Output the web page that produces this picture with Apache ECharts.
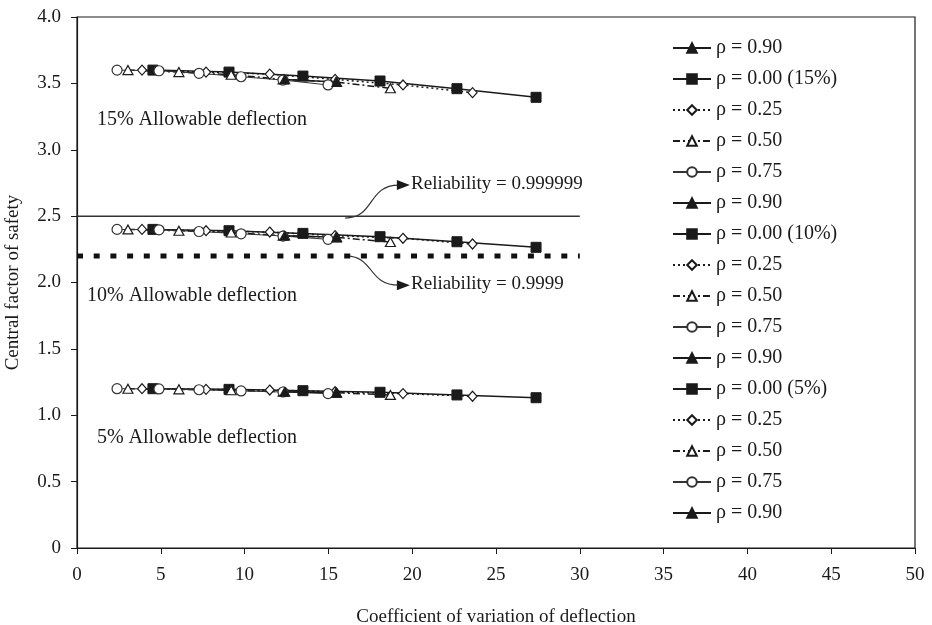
<!DOCTYPE html>
<html><head><meta charset="utf-8">
<script src="https://cdn.jsdelivr.net/npm/echarts@6/dist/echarts.min.js"></script>
<style>html,body{margin:0;padding:0;background:#fff}#c{width:932px;height:625px}</style>
</head><body><div id="c"></div>
<script>
// ---- data ----
const xTicks = [0,5,10,15,20,25,30,35,40,45,50];
const yTicks = [0,0.5,1.0,1.5,2.0,2.5,3.0,3.5,4.0];
// coefficient of variation of deflection (x) for each correlation
const cov_r00 = [4.53, 9.07, 13.48, 18.08, 22.67, 27.39];
const cov_r25 = [3.88, 7.70, 11.50, 15.40, 19.45, 23.60];
const cov_r50 = [3.04, 6.08, 9.20, 12.30, 15.45, 18.70];
const cov_r75 = [2.39, 4.89, 7.28, 9.79, 12.29, 14.98];
const cov_r90 = [12.40, 15.50];
// central factor of safety, 15% allowable deflection
const fs15_r00 = [3.60, 3.585, 3.555, 3.518, 3.46, 3.395];
const fs15_r25 = [3.60, 3.585, 3.57, 3.53, 3.488, 3.43];
const fs15_r50 = [3.60, 3.585, 3.565, 3.53, 3.51, 3.463];
const fs15_r75 = [3.60, 3.595, 3.576, 3.55, 3.525, 3.488];
const fs15_r90 = [3.53, 3.51];
// 10% allowable deflection
const fs10_r00 = [2.40, 2.39, 2.37, 2.345, 2.307, 2.265];
const fs10_r25 = [2.40, 2.39, 2.38, 2.353, 2.333, 2.29];
const fs10_r50 = [2.40, 2.39, 2.377, 2.353, 2.34, 2.305];
const fs10_r75 = [2.40, 2.397, 2.384, 2.367, 2.35, 2.325];
const fs10_r90 = [2.353, 2.34];
// 5% allowable deflection
const fs05_r00 = [1.20, 1.195, 1.185, 1.173, 1.153, 1.132];
const fs05_r25 = [1.20, 1.195, 1.19, 1.177, 1.163, 1.143];
const fs05_r50 = [1.20, 1.195, 1.188, 1.177, 1.17, 1.153];
const fs05_r75 = [1.20, 1.198, 1.192, 1.183, 1.175, 1.163];
const fs05_r90 = [1.177, 1.17];
// reliability reference lines
const relX = [0, 30];
const rel6 = 2.5;
const rel4 = 2.2;
const legendLabels = ['ρ = 0.90','ρ = 0.00 (15%)','ρ = 0.25','ρ = 0.50','ρ = 0.75','ρ = 0.90',
  'ρ = 0.00 (10%)','ρ = 0.25','ρ = 0.50','ρ = 0.75','ρ = 0.90',
  'ρ = 0.00 (5%)','ρ = 0.25','ρ = 0.50','ρ = 0.75','ρ = 0.90'];

const FONT = 'Liberation Serif';
const INK = '#1a1a1a';
const zip = (xs, ys) => xs.map((x, i) => [x, ys[i]]);

const styles = {
  r00: {symbol:'rect', symbolSize:10, item:{color:INK, borderColor:INK}, line:{color:INK, width:1.5, type:'solid'}},
  r25: {symbol:'diamond', symbolSize:[9,10], item:{color:'#fff', borderColor:INK, borderWidth:1.2}, line:{color:INK, width:1.5, type:[2,3]}},
  r50: {symbol:'triangle', symbolSize:[10,9], item:{color:'#fff', borderColor:INK, borderWidth:1.2}, line:{color:INK, width:1.5, type:[7,3,2,3]}},
  r75: {symbol:'circle', symbolSize:10, item:{color:'#fff', borderColor:'#333', borderWidth:1.2}, line:{color:'#333', width:1, type:'solid'}},
  r90: {symbol:'triangle', symbolSize:[10,9], item:{color:INK, borderColor:INK}, line:{color:INK, width:1.5, type:'solid'}}
};
function mk(idx, key, xs, ys) {
  const s = styles[key];
  return {
    name: 's' + idx, type: 'line', data: zip(xs, ys), symbol: s.symbol, symbolSize: s.symbolSize,
    showAllSymbol: true, itemStyle: Object.assign({borderWidth:1}, s.item), lineStyle: s.line,
    emphasis: {disabled: true}, animation: false, z: 3
  };
}
const series = [
  mk(0, 'r90', [], []),
  mk(1, 'r00', cov_r00, fs15_r00), mk(2, 'r25', cov_r25, fs15_r25), mk(3, 'r50', cov_r50, fs15_r50), mk(4, 'r75', cov_r75, fs15_r75), mk(5, 'r90', cov_r90, fs15_r90),
  mk(6, 'r00', cov_r00, fs10_r00), mk(7, 'r25', cov_r25, fs10_r25), mk(8, 'r50', cov_r50, fs10_r50), mk(9, 'r75', cov_r75, fs10_r75), mk(10, 'r90', cov_r90, fs10_r90),
  mk(11, 'r00', cov_r00, fs05_r00), mk(12, 'r25', cov_r25, fs05_r25), mk(13, 'r50', cov_r50, fs05_r50), mk(14, 'r75', cov_r75, fs05_r75), mk(15, 'r90', cov_r90, fs05_r90),
  {name:'rel6', type:'line', data: relX.map(x => [x, rel6]), symbol:'none', lineStyle:{color:'#333', width:1.5}, animation:false, z:2},
  {name:'rel4', type:'line', data: relX.map(x => [x, rel4]), symbol:'none', lineStyle:{color:'#111', width:5, type:[6,10.7]}, animation:false, z:2}
];

const chart = echarts.init(document.getElementById('c'), null, {renderer:'canvas'});
chart.setOption({
  backgroundColor:'#fff',
  animation:false,
  textStyle:{fontFamily:FONT, color:INK},
  grid:{left:77, right:17, top:17, bottom:77, show:true, borderColor:INK, borderWidth:1.2, backgroundColor:'transparent',
    containLabel:false, outerBoundsMode:'none'},
  xAxis:{type:'value', min:xTicks[0], max:xTicks[xTicks.length-1], interval:5,
    name:'Coefficient of variation of deflection', nameLocation:'middle', nameGap:60,
    nameTextStyle:{fontFamily:FONT, fontSize:19, color:INK},
    axisLine:{show:true, onZero:false, lineStyle:{color:INK, width:1.2}},
    axisTick:{show:true, inside:false, length:6, lineStyle:{color:INK}},
    axisLabel:{fontFamily:FONT, fontSize:19, color:INK, margin:18},
    splitLine:{show:false}},
  yAxis:{type:'value', min:yTicks[0], max:yTicks[yTicks.length-1], interval:0.5,
    name:'Central factor of safety', nameLocation:'middle', nameGap:54,
    nameTextStyle:{fontFamily:FONT, fontSize:19, color:INK},
    axisLine:{show:true, lineStyle:{color:INK, width:1.2}},
    axisTick:{show:true, inside:false, length:6, lineStyle:{color:INK}},
    axisLabel:{fontFamily:FONT, fontSize:19, color:INK, margin:16, formatter: v => v === 0 ? '0' : v.toFixed(1)},
    splitLine:{show:false}},
  legend:{
    data: legendLabels.map((l, i) => 's' + i),
    formatter: n => legendLabels[+n.slice(1)],
    orient:'vertical', left:672, top:38, itemWidth:38, itemHeight:12, itemGap:11,
    textStyle:{fontFamily:FONT, fontSize:20, color:INK, padding:[0,0,0,0]},
    selectedMode:false, padding:0
  },
  series: series
});

// annotations anchored to data coordinates
function px(x, y) { return chart.convertToPixel({gridIndex:0}, [x, y]); }
const g = [];
function label(x, y, text, size) {
  const p = px(x, y);
  g.push({type:'text', left:p[0], top:p[1]-size/2-1, style:{text:text, font:size + 'px "Liberation Serif"', fill:INK}});
}
label(1.19, 3.22, '15% Allowable deflection', 20);
label(0.6, 1.89, '10% Allowable deflection', 20);
label(1.19, 0.82, '5% Allowable deflection', 20);
label(19.93, 2.734, 'Reliability = 0.999999', 19);
label(19.93, 1.98, 'Reliability = 0.9999', 19);
function arrow(x0, y0, x1, y1) {
  const a = px(x0, y0), b = px(x1, y1);
  const ex = b[0] - 10;
  g.push({type:'bezierCurve', shape:{x1:a[0], y1:a[1], x2:ex, y2:b[1], cpx1:a[0]+30, cpy1:a[1], cpx2:a[0]+22, cpy2:b[1]}, style:{stroke:'#333', lineWidth:1.2, fill:null}});
  g.push({type:'polygon', shape:{points:[[ex-2, b[1]-5],[b[0]+1, b[1]],[ex-2, b[1]+5]]}, style:{fill:INK}});
}
arrow(16.0, 2.485, 19.8, 2.734);
arrow(16.0, 2.2, 19.8, 1.98);
chart.setOption({graphic: g});
</script></body></html>
